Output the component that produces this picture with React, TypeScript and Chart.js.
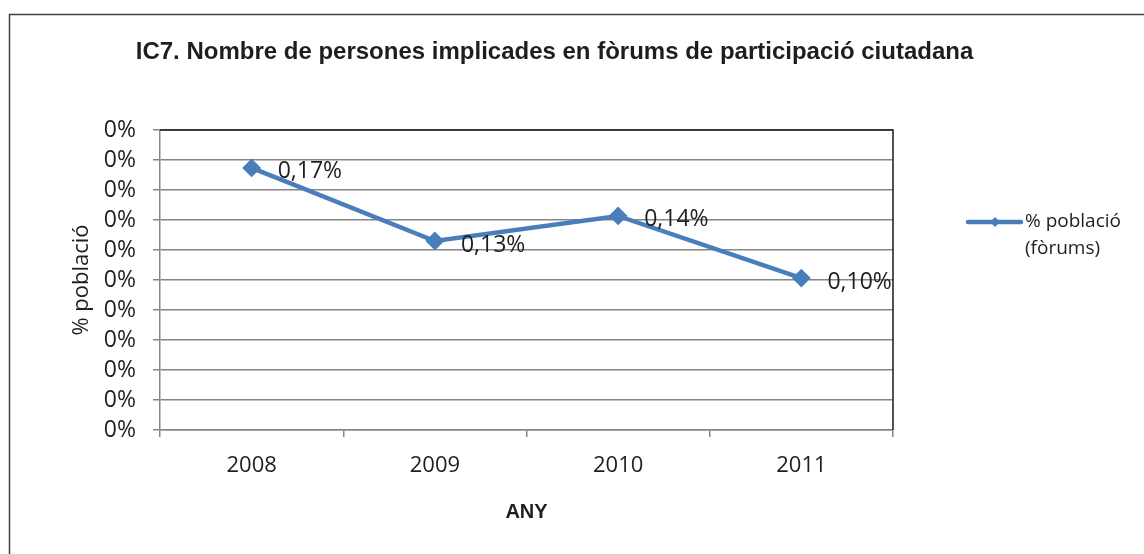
import { useEffect, useRef } from 'react';
import { Chart, registerables } from 'chart.js';

Chart.register(...registerables);

const chartTitle = 'IC7. Nombre de persones implicades en fòrums de participació ciutadana';
const years = ['2008', '2009', '2010', '2011'];
const shareOfPopulation = [0.001747, 0.00126, 0.001427, 0.001013];
const legendLines = ['% població', '(fòrums)'];
const yAxisTitle = '% població';
const xAxisTitle = 'ANY';

const BLUE = '#4A7EBB';
const GRID = '#868686';
const TEXT = '#1e1e1e';
const SANS = '"Open Sans", "DejaVu Sans", sans-serif';
const BOLD = '"Liberation Sans", Arial, sans-serif';

const fmtLabel = (v: number) => (v * 100).toFixed(2).replace('.', ',') + '%';

const decor = {
  id: 'decor',
  beforeDraw(chart: any) {
    const { ctx, width, height } = chart;
    ctx.save();
    ctx.fillStyle = '#ffffff';
    ctx.fillRect(0, 0, width, height);
    ctx.strokeStyle = '#404040';
    ctx.lineWidth = 1.5;
    ctx.beginPath();
    ctx.moveTo(9.5, height);
    ctx.lineTo(9.5, 14.5);
    ctx.lineTo(width, 14.5);
    ctx.stroke();
    ctx.restore();
  },
  afterDraw(chart: any) {
    const { ctx, chartArea } = chart;
    ctx.save();
    // plot frame top & right
    ctx.strokeStyle = '#1a1a1a';
    ctx.lineWidth = 1.5;
    ctx.beginPath();
    ctx.moveTo(chartArea.left, chartArea.top);
    ctx.lineTo(chartArea.right, chartArea.top);
    ctx.lineTo(chartArea.right, chartArea.bottom);
    ctx.stroke();

    // title
    ctx.fillStyle = TEXT;
    ctx.font = `bold 24px ${BOLD}`;
    ctx.textAlign = 'center';
    ctx.textBaseline = 'middle';
    ctx.fillText(chartTitle, 554.5, 52);

    // data labels
    const meta = chart.getDatasetMeta(0);
    ctx.font = `23px ${SANS}`;
    ctx.textAlign = 'left';
    ctx.fillStyle = TEXT;
    meta.data.forEach((pt: any, i: number) => {
      ctx.fillText(fmtLabel(shareOfPopulation[i]), pt.x + 26, pt.y + 4);
    });

    // legend
    const ly = 222;
    ctx.strokeStyle = BLUE;
    ctx.lineWidth = 4.5;
    ctx.lineCap = 'round';
    ctx.beginPath();
    ctx.moveTo(968, ly);
    ctx.lineTo(1021, ly);
    ctx.stroke();
    ctx.fillStyle = BLUE;
    ctx.beginPath();
    ctx.moveTo(995 - 5, ly);
    ctx.lineTo(995, ly - 5);
    ctx.lineTo(995 + 5, ly);
    ctx.lineTo(995, ly + 5);
    ctx.closePath();
    ctx.fill();
    ctx.fillStyle = TEXT;
    ctx.font = `19px ${SANS}`;
    ctx.textAlign = 'left';
    ctx.textBaseline = 'middle';
    legendLines.forEach((t, i) => ctx.fillText(t, 1025, ly + i * 27));
    ctx.restore();
  },
};

export default function App() {
  const ref = useRef<HTMLCanvasElement>(null);
  useEffect(() => {
    if (!ref.current) return;
    const chart = new Chart(ref.current, {
      type: 'line',
      data: {
        labels: years,
        datasets: [
          {
            label: legendLines.join(' '),
            data: shareOfPopulation,
            borderColor: BLUE,
            backgroundColor: BLUE,
            borderWidth: 4.5,
            pointStyle: 'rectRot',
            pointRadius: 8,
            pointBorderWidth: 2,
            pointBackgroundColor: BLUE,
            pointBorderColor: BLUE,
            tension: 0,
          },
        ],
      },
      options: {
        responsive: false,
        animation: false,
        devicePixelRatio: 1,
        layout: { padding: { left: 10, top: 130, right: 251, bottom: 10 } },
        plugins: {
          legend: { display: false },
          title: { display: false },
          tooltip: { enabled: false },
        },
        scales: {
          x: {
            type: 'category',
            offset: true,
            afterFit: (s: any) => {
              s.height = 114;
            },
            grid: {
              offset: true,
              drawOnChartArea: false,
              drawTicks: true,
              tickLength: 7,
              color: GRID,
              lineWidth: 1.5,
            },
            border: { display: true, color: GRID, width: 1.5 },
            ticks: {
              color: TEXT,
              font: { family: SANS, size: 22 },
              padding: 16,
              maxRotation: 0,
            },
            title: {
              display: true,
              text: xAxisTitle,
              color: TEXT,
              font: { family: BOLD, size: 20, weight: 'bold' },
              padding: { top: 0, bottom: 20 },
            },
          },
          y: {
            min: 0,
            max: 0.002,
            afterFit: (s: any) => {
              s.width = 150;
            },
            afterBuildTicks: (s: any) => {
              s.ticks = Array.from({ length: 11 }, (_, i) => ({ value: i * 0.0002 }));
            },
            grid: {
              color: GRID,
              lineWidth: 1.5,
              drawTicks: true,
              tickLength: 7,
            },
            border: { display: true, color: GRID, width: 1.5 },
            ticks: {
              autoSkip: false,
              color: TEXT,
              font: { family: SANS, size: 23 },
              padding: 17,
              callback: (v: any) => Math.round(Number(v) * 100) + '%',
            },
            title: {
              display: true,
              text: yAxisTitle,
              color: TEXT,
              font: { family: SANS, size: 22 },
              padding: { top: 59, bottom: 0 },
            },
          },
        },
      },
      plugins: [decor],
    });
    return () => chart.destroy();
  }, []);
  return (
    <div style={{ position: 'fixed', left: 0, top: 0, width: 1144, height: 554 }}>
      <canvas ref={ref} width={1144} height={554} />
    </div>
  );
}
